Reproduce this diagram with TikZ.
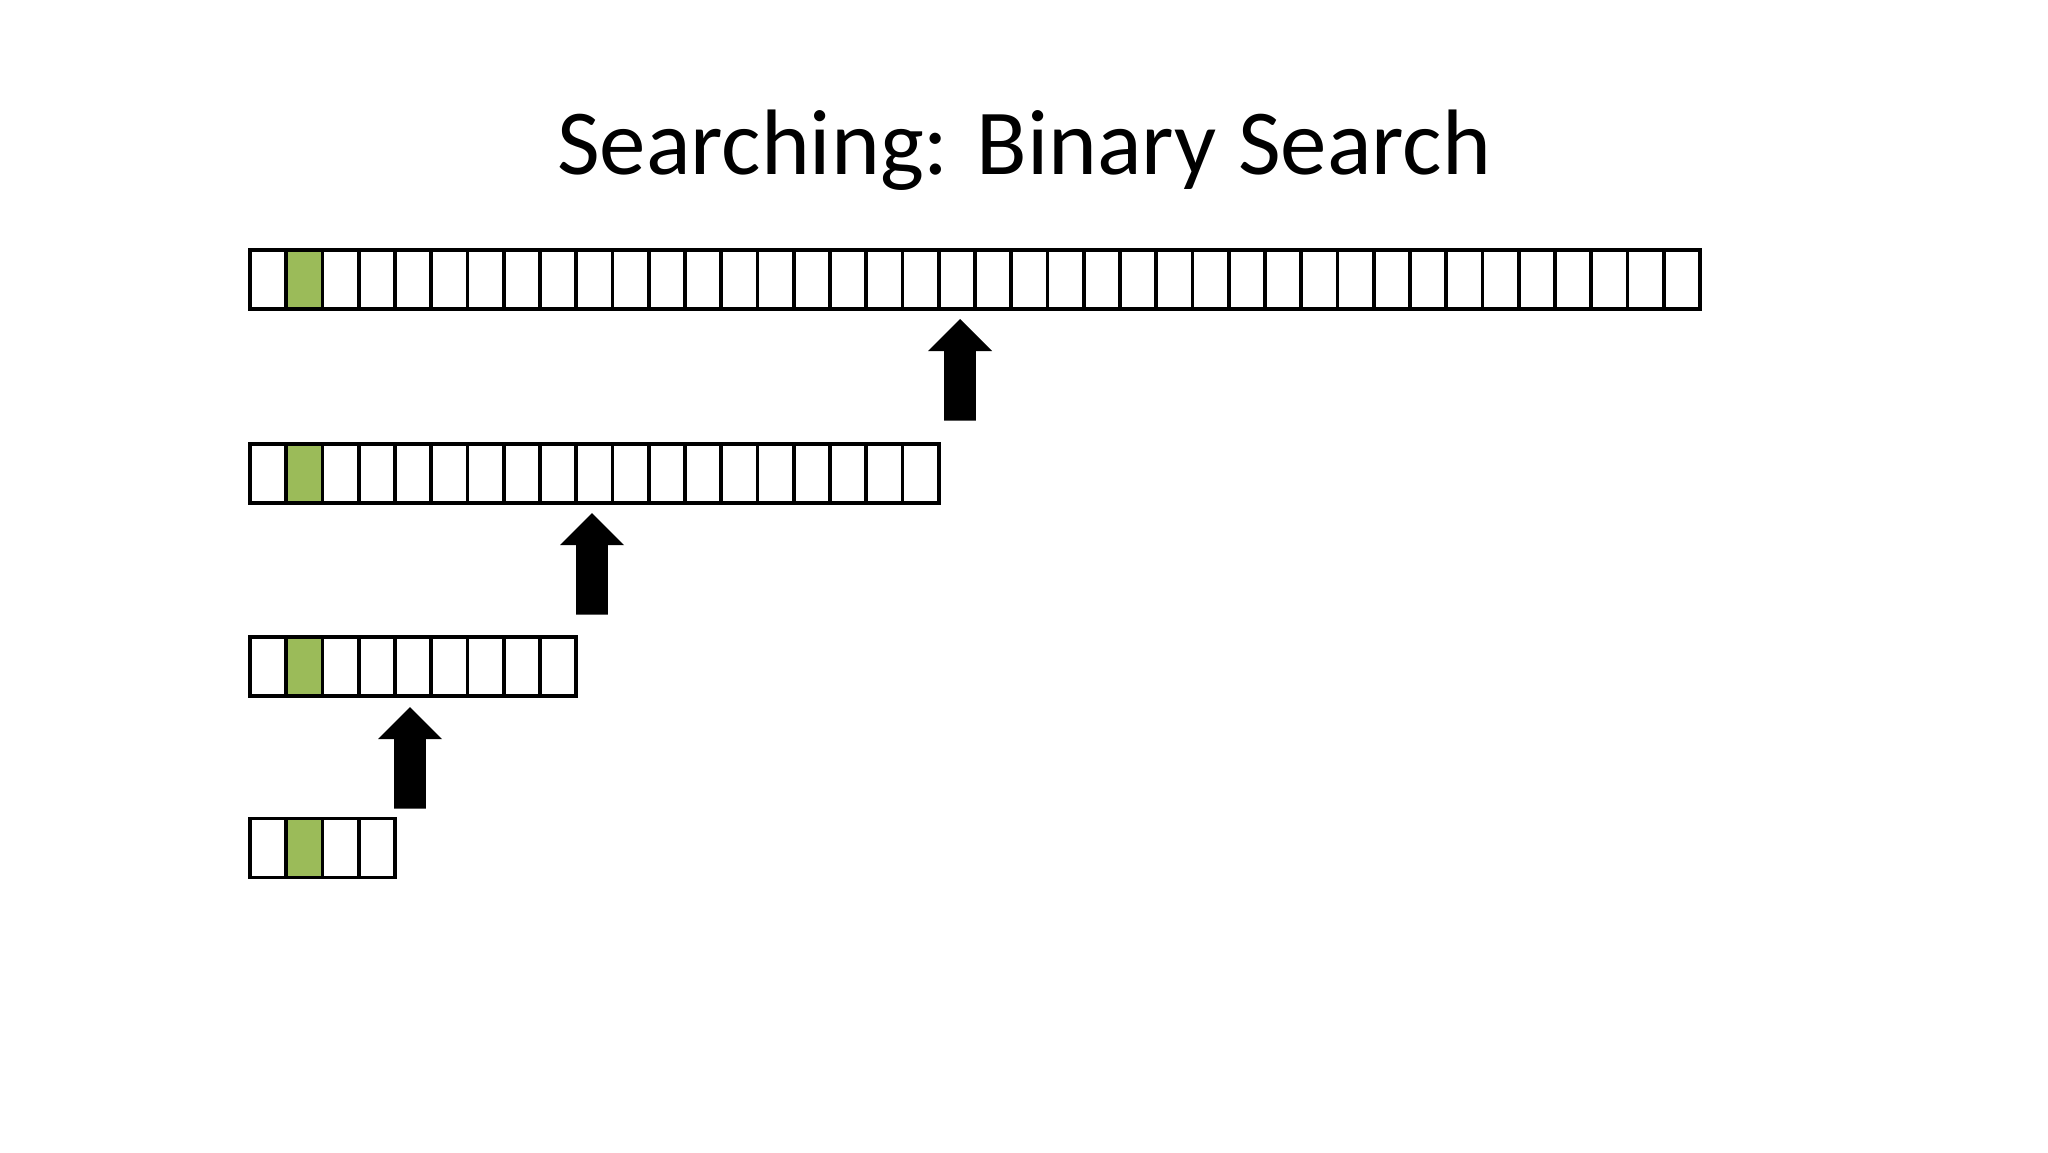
\documentclass[tikz,border=0pt]{standalone}
\usepackage{fontspec}
\setmainfont{Carlito}
\definecolor{cellgreen}{HTML}{9BBB59}
\tikzset{
  cell/.style={draw=black, line width=3.6pt*0.5, fill=white, minimum width=36.25*0.5pt, minimum height=59*0.5pt, inner sep=0pt, outer sep=0pt},
  hitcell/.style={cell, fill=cellgreen},
  bigarrow/.style={fill=black}
}
\newcommand{\cellrow}[3]{% name, count, center y
  \foreach \i in {1,...,#2}{
    \pgfmathsetmacro{\cx}{250+(\i-0.5)*36.25}
    \ifnum\i=2
      \node[hitcell] (#1c\i) at (\cx,#3) {};
    \else
      \node[cell] (#1c\i) at (\cx,#3) {};
    \fi
  }
}
\newcommand{\uparrowat}[3]{% name, tip x, tip y
  \coordinate (#1) at (#2,#3);
  \fill[bigarrow] (#1) -- ++(32,32) -- ++(-16.2,0) -- ++(0,69.5) -- ++(-31.6,0) -- ++(0,-69.5) -- ++(-16.2,0) -- cycle;
}
\begin{document}
\begin{tikzpicture}[x=0.5pt,y=-0.5pt]
\useasboundingbox (0,0) rectangle (2048,1152);
\fill[white] (0,0) rectangle (2048,1152);
\node[anchor=base, font=\fontsize{46.5pt}{51pt}\selectfont, inner sep=0pt] (title) at (1024,174) {Searching: Binary Search};
\cellrow{ra}{40}{279.5}
\cellrow{rb}{19}{473.5}
\cellrow{rc}{9}{666.5}
\cellrow{rd}{4}{848}
\uparrowat{arrA}{960}{319}
\uparrowat{arrB}{592}{513}
\uparrowat{arrC}{410}{707}
\end{tikzpicture}
\end{document}
